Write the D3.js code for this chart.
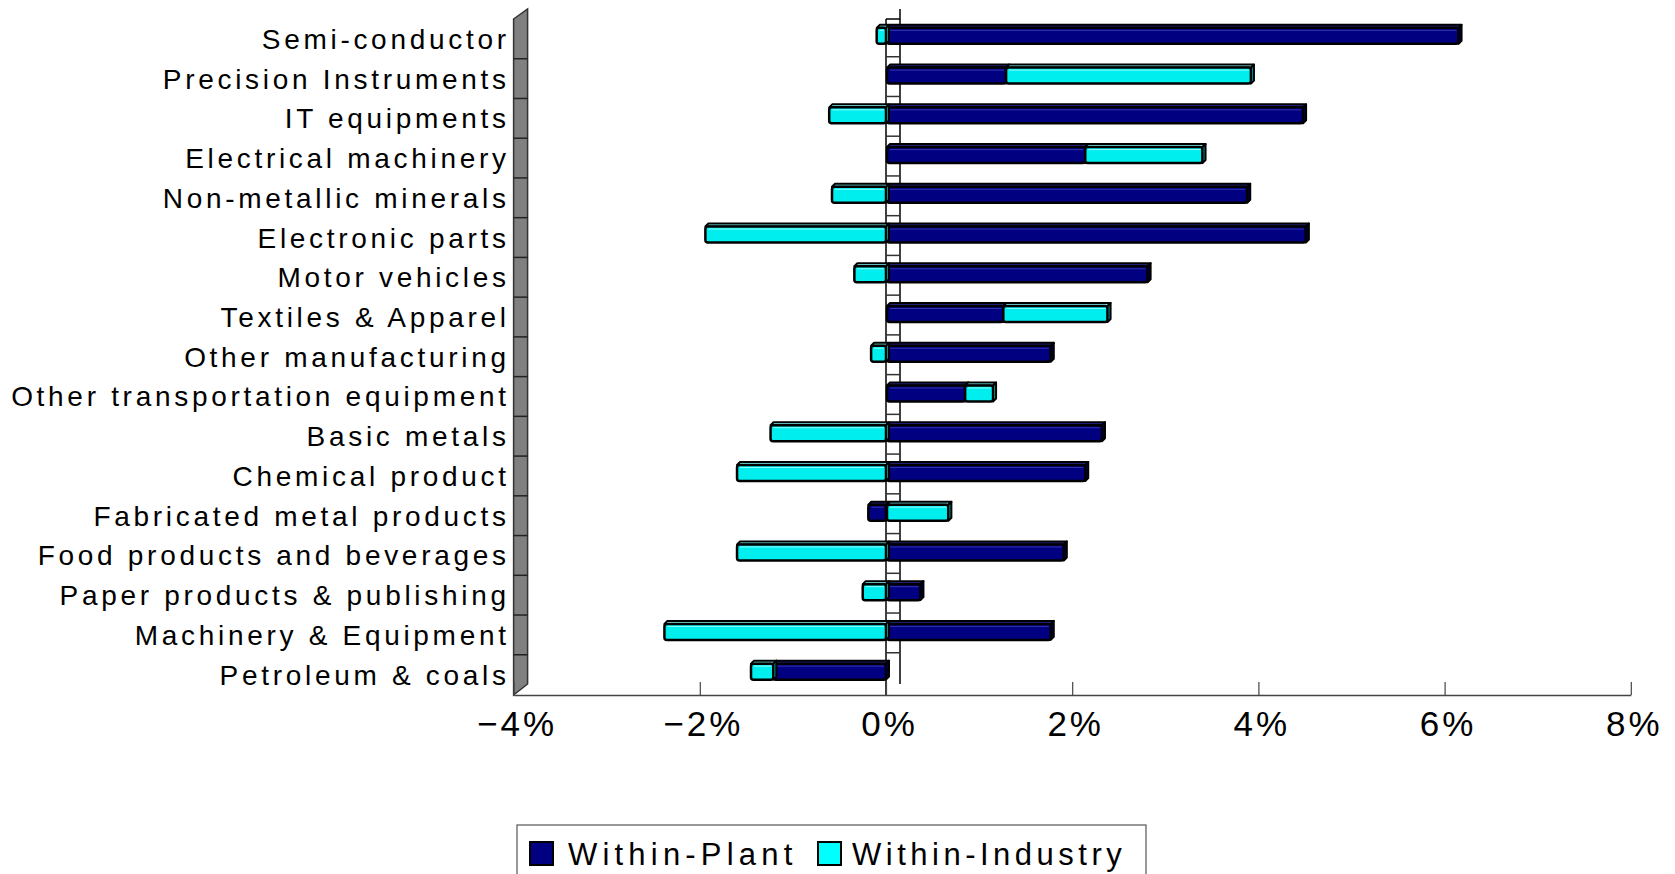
<!DOCTYPE html>
<html>
<head>
<meta charset="utf-8">
<script src="https://cdn.jsdelivr.net/npm/d3@7"></script>
<style>
  html, body { margin: 0; padding: 0; background: #ffffff; }
  svg { display: block; }
  text { font-family: "Liberation Sans", Arial, sans-serif; fill: #000; }
</style>
</head>
<body>
<svg id="chart" width="1675" height="874"></svg>
<script>
const categories = [
  "Semi-conductor",
  "Precision Instruments",
  "IT equipments",
  "Electrical machinery",
  "Non-metallic minerals",
  "Electronic parts",
  "Motor vehicles",
  "Textiles & Apparel",
  "Other manufacturing",
  "Other transportation equipment",
  "Basic metals",
  "Chemical product",
  "Fabricated metal products",
  "Food products and beverages",
  "Paper products & publishing",
  "Machinery & Equipment",
  "Petroleum & coals"
];
const withinPlant    = [6.15, 1.29, 4.48, 2.14, 3.88, 4.51, 2.81, 1.26, 1.77, 0.85, 2.32, 2.14, -0.19, 1.91, 0.37, 1.77, -1.21];
const withinIndustry = [-0.10, 2.63, -0.61, 1.26, -0.58, -1.94, -0.34, 1.12, -0.16, 0.30, -1.24, -1.60, 0.67, -1.60, -0.25, -2.38, -0.24];
const seriesNames = ["Within-Plant", "Within-Industry"];
const seriesColors = ["#000080", "#00FFFF"];
const barColors = ["#000080", "#00EEEE"];
const topColors = ["#2a2aa0", "#7ff7f7"];
const sideColors = ["#000040", "#008f8f"];
const tickValues = [-4, -2, 0, 2, 4, 6, 8];

const svg = d3.select("#chart");

const x = d3.scaleLinear().domain([-4, 8]).range([513.6, 1630.8]);
const y = d3.scaleBand().domain(categories).range([19, 694.5]).padding(0);

const depthX = 14, depthY = 10;
const floorY = 695;
const plotTop = 19;

// left wall (gray)
const xl = x(-4);
svg.append("path")
  .attr("d", `M${xl},${plotTop} L${xl + depthX},${plotTop - depthY} L${xl + depthX},${floorY - 11} L${xl},${floorY} Z`)
  .attr("fill", "#808080").attr("stroke", "#333").attr("stroke-width", 1.5);
categories.forEach((c, i) => {
  if (i === 0) return;
  svg.append("line")
    .attr("x1", xl).attr("x2", xl + depthX)
    .attr("y1", y(c)).attr("y2", y(c))
    .attr("stroke", "#222").attr("stroke-width", 1.5);
});

// zero wall
const x0 = x(0);
svg.append("rect").attr("x", x0).attr("y", plotTop).attr("width", depthX).attr("height", floorY - plotTop)
  .attr("fill", "#fff");
svg.append("line").attr("x1", x0).attr("x2", x0).attr("y1", plotTop).attr("y2", floorY)
  .attr("stroke", "#000").attr("stroke-width", 1.5);
svg.append("line").attr("x1", x0 + depthX).attr("x2", x0 + depthX).attr("y1", plotTop - depthY).attr("y2", floorY - 11)
  .attr("stroke", "#000").attr("stroke-width", 1.5);
svg.append("line").attr("x1", x0).attr("x2", x0 + depthX).attr("y1", plotTop).attr("y2", plotTop)
  .attr("stroke", "#000").attr("stroke-width", 1.5);
categories.forEach((c, i) => {
  if (i === 0) return;
  svg.append("line")
    .attr("x1", x0).attr("x2", x0 + depthX)
    .attr("y1", y(c) - 2).attr("y2", y(c) - 2)
    .attr("stroke", "#333").attr("stroke-width", 1.5);
});

// x axis
const xAxis = d3.axisBottom(x)
  .tickValues(tickValues)
  .tickSizeInner(-13)
  .tickSizeOuter(0)
  .tickFormat(d => d3.format(".0%")(d / 100));
const gx = svg.append("g").attr("transform", `translate(0,${floorY})`).call(xAxis);
gx.select(".domain").attr("stroke", "#444").attr("stroke-width", 1.5);
gx.selectAll(".tick line").attr("stroke", "#444").attr("stroke-width", 1.2);
gx.selectAll(".tick text")
  .attr("y", 41).attr("dy", 0).attr("dx", 3)
  .style("font-size", "35px")
  .style("letter-spacing", "3px")
  .style("font-family", "'Liberation Sans', Arial, sans-serif")
  .attr("fill", "#000");

// category labels
const ls = 3.7;
svg.append("g").selectAll("text")
  .data(categories)
  .join("text")
  .attr("x", 506 + ls)
  .attr("y", d => y(d) + y.bandwidth() / 2 + 10)
  .attr("text-anchor", "end")
  .style("font-size", "28px")
  .style("letter-spacing", ls + "px")
  .text(d => d);

// stacked bars
const rows = categories.map((c, i) => ({ cat: c, p: withinPlant[i], n: withinIndustry[i] }));
const stack = d3.stack()
  .keys(["p", "n"])
  .offset(d3.stackOffsetDiverging);
const layers = stack(rows);

const dd = 3; // small depth of bar top face
const bars = svg.append("g");
layers.forEach((layer, si) => {
  layer.forEach((seg, ri) => {
    const cat = rows[ri].cat;
    const c = y(cat) + y.bandwidth() / 2;
    const v0 = seg[0], v1 = seg[1];
    if (v0 === v1) return;
    const lo = Math.min(v0, v1), hi = Math.max(v0, v1);
    const xa = x(lo) + (lo === 0 ? 1 : 0);
    const xb = x(hi);
    const yt = c - 11, yb = c + 5;
    const g = bars.append("g");
    g.append("path")
      .attr("d", `M${xa},${yt} L${xa + dd},${yt - dd} L${xb + dd},${yt - dd} L${xb},${yt} Z`)
      .attr("fill", topColors[si]).attr("stroke", "#000").attr("stroke-width", 2).attr("stroke-linejoin", "round");
    g.append("rect")
      .attr("x", xa).attr("y", yt)
      .attr("width", Math.max(0, xb - xa)).attr("height", yb - yt)
      .attr("rx", 2.5)
      .attr("fill", barColors[si]).attr("stroke", "#000").attr("stroke-width", 2.5);
    g.append("line")
      .attr("x1", xa + 3).attr("x2", xb - 2)
      .attr("y1", yt + 2.5).attr("y2", yt + 2.5)
      .attr("stroke", si === 0 ? "#3535b0" : "#8ffcfc").attr("stroke-width", 1);
    g.append("path")
      .attr("d", `M${xb},${yt} L${xb + dd},${yt - dd} L${xb + dd},${yb - dd} L${xb},${yb} Z`)
      .attr("fill", sideColors[si]).attr("stroke", "#000").attr("stroke-width", 2).attr("stroke-linejoin", "round");
  });
});

// legend
const lg = svg.append("g");
lg.append("rect").attr("x", 517).attr("y", 825).attr("width", 629).attr("height", 70)
  .attr("fill", "#fff").attr("stroke", "#555").attr("stroke-width", 1.2);
const legendX = [530, 818];
const legendTextX = [568, 852];
const legendSpacing = [5.2, 4.5];
seriesNames.forEach((name, i) => {
  lg.append("rect").attr("x", legendX[i]).attr("y", 842).attr("width", 23).attr("height", 23)
    .attr("fill", seriesColors[i]).attr("stroke", "#000").attr("stroke-width", 2);
  lg.append("text").attr("x", legendTextX[i]).attr("y", 865)
    .style("font-size", "31px").style("letter-spacing", legendSpacing[i] + "px")
    .text(name);
});
</script>
</body>
</html>
